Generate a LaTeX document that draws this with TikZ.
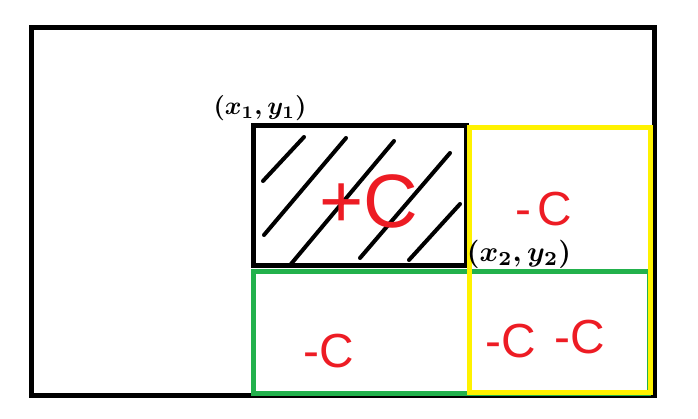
\documentclass[tikz,border=0pt]{standalone}
\usepackage{fontspec}
\setsansfont{Liberation Sans}
\definecolor{pyellow}{RGB}{255,242,0}
\definecolor{pgreen}{RGB}{34,177,76}
\definecolor{pred}{RGB}{237,28,36}
\tikzset{
  frame/.style={draw=black, line width=5bp},
  hatchbox/.style={draw=black, line width=5bp},
  ybox/.style={draw=pyellow, line width=5bp},
  gbox/.style={draw=pgreen, line width=4.5bp},
  hatchline/.style={draw=black, line width=4bp, line cap=round},
  redlbl/.style={text=pred, font=\sffamily\fontsize{48}{50}\selectfont, inner sep=0pt},
  coordlbl/.style={text=black, font=\boldmath, inner sep=0pt, scale=2.55, transform shape}
}
\begin{document}
\begin{tikzpicture}[x=1bp,y=-1bp]
\useasboundingbox (0,0) rectangle (698,418);
% outer frame
\draw[frame] (31,27.5) rectangle (654.5,395.5);
% green region
\draw[gbox] (253.5,271.5) rectangle (649,393.5);
% hatched region
\draw[hatchbox] (253,125.5) rectangle (466.5,265.5);
\draw[hatchline] (263,181) -- (304,137);
\draw[hatchline] (264,235) -- (346,138);
\draw[hatchline] (291,264) -- (394,141);
\draw[hatchline] (360,258) -- (450,153);
\draw[hatchline] (409,260) -- (460,204);
% yellow region
\draw[ybox] (469.5,127.5) rectangle (650.5,392.5);
% labels
\node[coordlbl] (p1) at (260,108) {$(x_1,y_1)$};
\node[coordlbl, scale=1.12] (p2) at (519,254) {$(x_2,y_2)$};
\node[text=pred, font=\sffamily\fontsize{76}{78}\selectfont, inner sep=0pt, anchor=base] (plusc) at (369,227) {+C};
\node[redlbl, anchor=base] (cy) at (544,225) {-\kern6bp C};
\node[redlbl, anchor=base] (cg) at (329,367) {-C};
\node[redlbl, anchor=base] (cb1) at (511,357) {-C};
\node[redlbl, anchor=base] (cb2) at (580,353) {-C};
\end{tikzpicture}
\end{document}
